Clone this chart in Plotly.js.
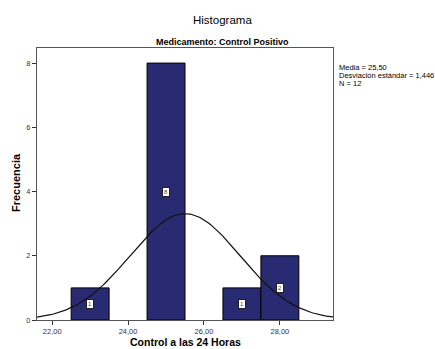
<!DOCTYPE html>
<html><head><meta charset="utf-8">
<script src="https://cdn.plot.ly/plotly-3.0.1.min.js"></script>
<style>body{margin:0;padding:0;background:#fff}#c{width:435px;height:349px}</style>
</head><body><div id="c"></div>
<script>
var binCenters = [23, 25, 27, 28];
var counts = [1, 8, 1, 2];
var tickVals = [22, 24, 26, 28];
var tickLabels = ["22,00", "24,00", "26,00", "28,00"];
var yTickVals = [0, 2, 4, 6, 8];
var media = 25.50;
var desv = 1.446;
var n = 12;
var binWidth = 1;

// fitted normal curve from the stated mean / sd / N
var cx = [], cy = [];
for (var i = 0; i <= 200; i++) {
  var x = 21.0 + i * (30.0 - 21.0) / 200;
  cx.push(x);
  cy.push(n * binWidth / (desv * Math.sqrt(2 * Math.PI)) * Math.exp(-0.5 * Math.pow((x - media) / desv, 2)));
}

var traces = [
  {type: 'bar', x: binCenters, y: counts, width: binWidth,
   marker: {color: '#282a72', line: {color: '#000', width: 1}}, hoverinfo: 'none'},
  {type: 'scatter', mode: 'lines', x: cx, y: cy, line: {color: '#111', width: 1.2}, hoverinfo: 'none'}
];

var F = 'Liberation Sans, Arial';
var ann = [];
for (var k = 0; k < binCenters.length; k++) {
  ann.push({x: binCenters[k], y: counts[k] / 2, xref: 'x', yref: 'y', text: String(counts[k]),
    showarrow: false, bgcolor: '#fff', bordercolor: '#222', borderwidth: 1, borderpad: 1,
    font: {family: F, size: 6, color: '#444'}});
}
var statLines = ['Media = ' + media.toFixed(2).replace('.', ','),
  'Desviación estándar = ' + String(desv).replace('.', ','),
  'N = ' + n];
for (var s = 0; s < statLines.length; s++) {
  ann.push({x: 337, y: 67 + s * 8, xanchor: 'left', yanchor: 'middle', text: statLines[s],
    font: {family: F, size: 7.5, color: '#000'}});
}
ann.push({x: 222, y: 20, text: 'Histograma', font: {family: F, size: 11.5, color: '#000'}});
ann.push({x: 222, y: 42, text: '<b>Medicamento: Control Positivo</b>', font: {family: F, size: 9, color: '#000'}});
ann.push({x: 185, y: 342, text: '<b>Control a las 24 Horas</b>', font: {family: F, size: 10.5, color: '#000'}});
ann.push({x: 16, y: 183, text: '<b>Frecuencia</b>', textangle: -90, font: {family: F, size: 11, color: '#000'}});
// convert pixel annotations to paper coords
var W = 435, H = 349, L = 37, R = 102, T = 48, B = 29;
var pw = W - L - R, ph = H - T - B;
for (var a = 0; a < ann.length; a++) {
  var an = ann[a];
  if (an.xref === 'x') continue;
  an.showarrow = false;
  if (!an.xanchor) an.xanchor = 'center';
  if (!an.yanchor) an.yanchor = 'middle';
  an.xref = 'paper'; an.yref = 'paper';
  an.x = (an.x - L) / pw;
  an.y = (H - B - an.y) / ph;
}

var layout = {
  width: W, height: H, margin: {l: L, r: R, t: T, b: B},
  paper_bgcolor: '#fff', plot_bgcolor: '#fff', showlegend: false, bargap: 0,
  font: {family: F, size: 8, color: '#333'},
  xaxis: {range: [21.6, 29.4], tickvals: tickVals, ticktext: tickLabels, ticks: 'outside', ticklen: 4,
    tickcolor: '#333', showgrid: false, zeroline: false, showline: true, linecolor: '#555', linewidth: 1,
    mirror: true, tickfont: {size: 7.5, color: '#333'}},
  yaxis: {range: [0, 8.47], tickvals: yTickVals, ticks: 'outside', ticklen: 4, tickcolor: '#333',
    showgrid: false, zeroline: false, showline: true, linecolor: '#555', linewidth: 1, mirror: true,
    tickfont: {size: 7.5, color: '#333'}},
  annotations: ann
};
Plotly.newPlot('c', traces, layout, {staticPlot: true});
</script></body></html>
